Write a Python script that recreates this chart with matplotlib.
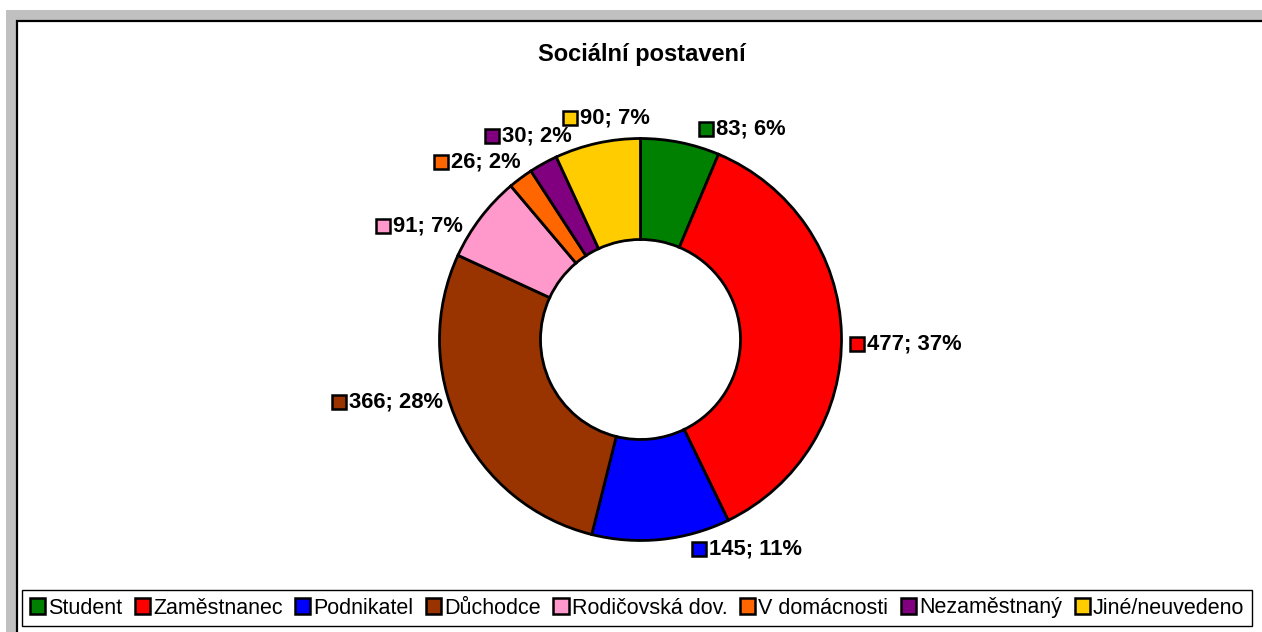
import matplotlib
matplotlib.use('Agg')
import matplotlib.pyplot as plt
from matplotlib.patches import Rectangle, Patch

# ---- data ----
categories = ['Student', 'Zaměstnanec', 'Podnikatel', 'Důchodce',
              'Rodičovská dov.', 'V domácnosti', 'Nezaměstnaný', 'Jiné/neuvedeno']
counts = [83, 477, 145, 366, 91, 26, 30, 90]
percents = [6, 37, 11, 28, 7, 2, 2, 7]
colors = ['#008000', '#FF0000', '#0000FF', '#993300',
          '#FF99CC', '#FF6600', '#800080', '#FFCC00']
title = 'Sociální postavení'

# ---- layout (pixel coordinates of the 1262x632 canvas, y measured from top) ----
W, H = 1262, 632
CENTER = (640.5, 339.5)
RADIUS = 201
HOLE = 100
label_anchor = [(699, 129), (850, 344), (692, 549), (332, 402),
                (376, 226), (434, 162), (485, 136), (563, 118)]

plt.rcParams['font.family'] = ['Liberation Sans', 'DejaVu Sans']

fig = plt.figure(figsize=(W / 100, H / 100), dpi=100)
ax = fig.add_axes([0, 0, 1, 1])

# outer grey frame and white chart area
ax.add_patch(Rectangle((6, -20), W + 20, H - 10 + 20, fc='#C0C0C0', ec='none'))
ax.add_patch(Rectangle((16.5, -20), W + 20, H - 20.5 + 20, fc='white',
                       ec='black', lw=1.6))

wedges, _ = ax.pie(counts, colors=colors, startangle=90, counterclock=False,
                   center=(CENTER[0], H - CENTER[1]), radius=RADIUS,
                   wedgeprops=dict(width=RADIUS - HOLE, edgecolor='black',
                                   linewidth=2.0))
ax.set_xlim(0, W)
ax.set_ylim(0, H)
ax.axis('off')

# data labels with colour key
for (x0, yp), v, p, c in zip(label_anchor, counts, percents, colors):
    y = H - yp
    ax.add_patch(Rectangle((x0, y - 7), 14, 14, fc=c, ec='black', lw=1.8))
    ax.text(x0 + 17, y, f'{v}; {p}%', ha='left', va='center',
            fontsize=15.8, fontweight='bold', color='black')

ax.text(642, H - 55, title, ha='center', va='center', fontsize=17,
        fontweight='bold', color='black')

handles = [Patch(fc=c, ec='black', lw=1.8) for c in colors]
leg = ax.legend(handles, categories, ncol=8, loc='center',
                bbox_to_anchor=(637 / W, (H - 608) / H),
                fontsize=15.5, handlelength=0.7, handleheight=0.7,
                handletextpad=0.15, columnspacing=0.58, borderpad=0.35,
                frameon=True, fancybox=False, framealpha=1, edgecolor='black')
leg.get_frame().set_linewidth(1.0)

fig.savefig('out.png', dpi=100)
